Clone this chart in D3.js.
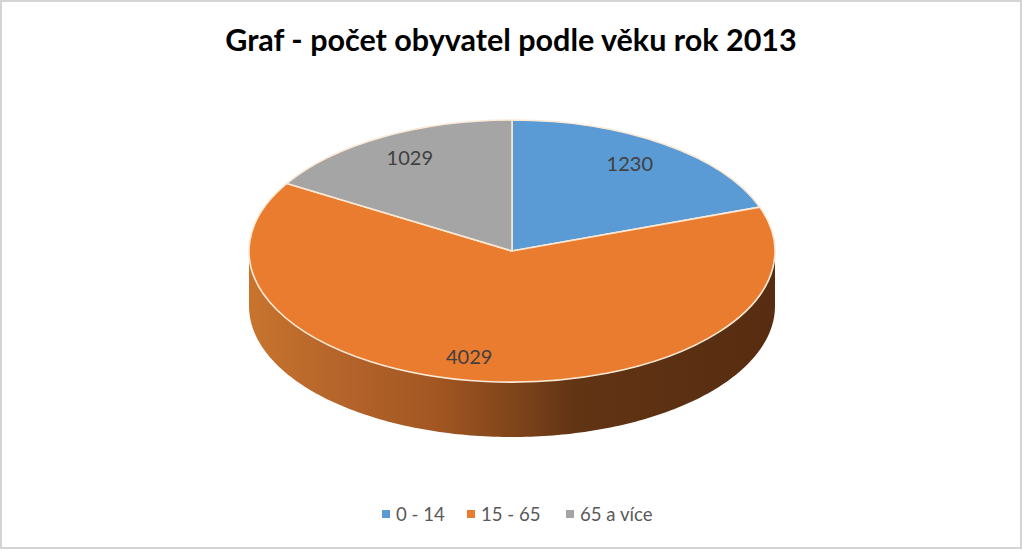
<!DOCTYPE html>
<html>
<head>
<meta charset="utf-8">
<script src="https://cdn.jsdelivr.net/npm/d3@7"></script>
<style>
  html, body { margin: 0; padding: 0; background: #fff; }
  svg { display: block; }
  text { font-family: Lato, "Open Sans", sans-serif; }
</style>
</head>
<body>
<div id="chart"></div>
<script>
const title = "Graf - počet obyvatel podle věku rok 2013";
const categories = ["0 - 14", "15 - 65", "65 a více"];
const values = [1230, 4029, 1029];
const colors = ["#5b9bd5", "#ea7c30", "#a5a5a5"];

const width = 1023, height = 551;
const cx = 512, cy = 251, rx = 263, ry = 131, depth = 55;

const svg = d3.select("#chart").append("svg")
  .attr("width", width).attr("height", height);

svg.append("rect")
  .attr("x", 1).attr("y", 1)
  .attr("width", width - 3).attr("height", height - 4)
  .attr("fill", "#fff").attr("stroke", "#d4d4d4").attr("stroke-width", 2);

svg.append("text")
  .attr("x", 511).attr("y", 51)
  .attr("text-anchor", "middle")
  .attr("font-size", 30.5).attr("font-weight", 700).attr("fill", "#000")
  .text(title);

// side gradient, runs left to right like the shaded rim
let grad = svg.append("defs").append("linearGradient").attr("id", "rim")
  .attr("gradientUnits", "userSpaceOnUse")
  .attr("x1", cx - rx).attr("x2", cx + rx).attr("y1", 0).attr("y2", 0);
[[0, "#c8742e"], [0.2, "#b2622a"], [0.35, "#a35722"], [0.5, "#80451a"], [0.62, "#613414"], [1, "#572c10"]]
  .forEach(s => grad.append("stop").attr("offset", s[0]).attr("stop-color", s[1]));

// front wall: bottom edge, then back along the top edge
let wall = d3.path();
d3.range(0, 181).forEach(a => {
  let t = a * Math.PI / 180;
  let x = cx + rx * Math.cos(t), y = cy + ry * Math.sin(t) + depth;
  if (a == 0) wall.moveTo(x, y); else wall.lineTo(x, y);
});
d3.range(180, -1, -1).forEach(a => {
  let t = a * Math.PI / 180;
  wall.lineTo(cx + rx * Math.cos(t), cy + ry * Math.sin(t));
});
wall.closePath();
svg.append("path").attr("d", wall.toString()).attr("fill", "url(#rim)");

// slices are drawn on a unit circle, squashed to the ellipse
let pie = d3.pie().sort(null).value(d => d)(values);
let arc = d3.arc().innerRadius(0).outerRadius(1);
let g = svg.append("g").attr("transform", `translate(${cx},${cy}) scale(${rx},${ry})`);

g.selectAll("path.slice").data(pie).enter().append("path")
  .attr("class", "slice")
  .attr("d", arc)
  .attr("fill", (d, i) => colors[i])
  .attr("stroke", "#fbe9d6")
  .attr("stroke-width", 1.6)
  .attr("stroke-linejoin", "round")
  .attr("vector-effect", "non-scaling-stroke");

// data labels
const labelNudge = [[-2, 0], [-22, 0], [0, -1]];
svg.selectAll("text.val").data(pie).enter().append("text")
  .attr("class", "val")
  .attr("x", (d, i) => cx + rx * 0.79 * Math.sin((d.startAngle + d.endAngle) / 2) + labelNudge[i][0])
  .attr("y", (d, i) => cy - ry * 0.81 * Math.cos((d.startAngle + d.endAngle) / 2) + 7 + labelNudge[i][1])
  .attr("text-anchor", "middle")
  .attr("font-size", 20)
  .attr("fill", "#404040")
  .text(d => d.data);

// legend
const legendX = [382, 467, 566];
let leg = svg.selectAll("g.leg").data(categories).enter().append("g")
  .attr("class", "leg")
  .attr("transform", (d, i) => `translate(${legendX[i]},514)`);
leg.append("rect")
  .attr("x", 0).attr("y", -4).attr("width", 8).attr("height", 8)
  .attr("fill", (d, i) => colors[i]);
leg.append("text")
  .attr("x", 14).attr("y", 7)
  .attr("font-size", 18.6)
  .attr("fill", "#595959")
  .text(d => d);
</script>
</body>
</html>
